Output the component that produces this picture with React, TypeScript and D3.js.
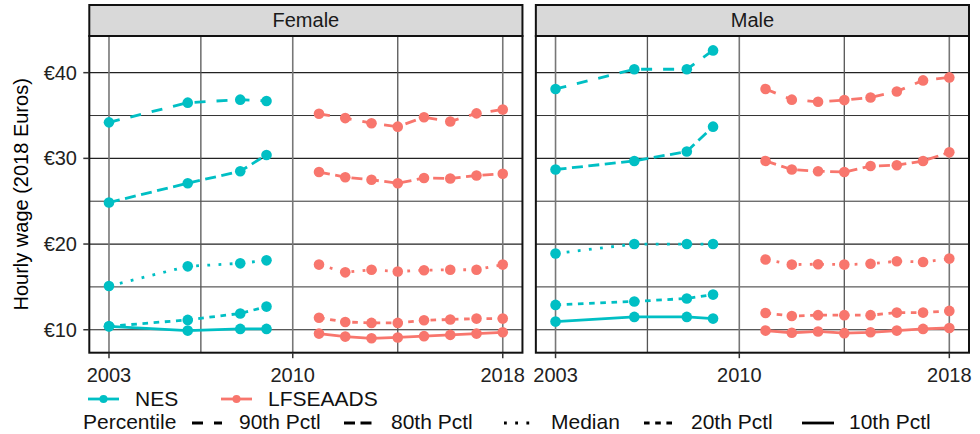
import React from "react";
import * as d3 from "d3";

// ---- data ----
const nesYears = [2003, 2006, 2008, 2009];
const lfsYears = [2011, 2012, 2013, 2014, 2015, 2016, 2017, 2018];
const percentiles = ["90th Pctl", "80th Pctl", "Median", "20th Pctl", "10th Pctl"];
const sexes = ["Female", "Male"];
const sources = ["NES", "LFSEAADS"];
const xTicks = [2003, 2010, 2018];
const yTicks = [10, 20, 30, 40];
const yTickLabels = ["€10", "€20", "€30", "€40"];

// rows in the order of `percentiles`
const femaleNES = [
    [34.2, 36.5, 36.85, 36.7],
    [24.85, 27.1, 28.5, 30.4],
    [15.1, 17.4, 17.75, 18.1],
    [10.4, 11.15, 11.9, 12.7],
    [10.4, 9.9, 10.1, 10.1],
];
const femaleLFS = [
    [35.2, 34.7, 34.1, 33.7, 34.8, 34.3, 35.25, 35.7],
    [28.4, 27.8, 27.5, 27.1, 27.7, 27.65, 28.0, 28.2],
    [17.6, 16.7, 17.0, 16.8, 16.95, 17.0, 17.0, 17.6],
    [11.4, 10.9, 10.8, 10.8, 11.1, 11.2, 11.3, 11.3],
    [9.55, 9.2, 9.0, 9.1, 9.25, 9.4, 9.55, 9.7],
];
const maleNES = [
    [38.1, 40.4, 40.4, 42.6],
    [28.7, 29.7, 30.8, 33.7],
    [18.9, 20.0, 20.0, 20.0],
    [12.9, 13.3, 13.65, 14.1],
    [10.95, 11.5, 11.5, 11.3],
];
const maleLFS = [
    [38.1, 36.85, 36.6, 36.8, 37.1, 37.8, 39.1, 39.45],
    [29.7, 28.7, 28.5, 28.4, 29.1, 29.2, 29.7, 30.7],
    [18.2, 17.6, 17.65, 17.6, 17.7, 18.0, 17.9, 18.3],
    [11.95, 11.6, 11.7, 11.7, 11.7, 12.0, 12.0, 12.2],
    [9.9, 9.65, 9.8, 9.6, 9.7, 9.9, 10.1, 10.2],
];

const colors: Record<string, string> = { NES: "#00BFC4", LFSEAADS: "#F8766D" };
const dashes: Record<string, string | undefined> = {
    "90th Pctl": "11 11",
    "80th Pctl": "11 5.5",
    "Median": "2.8 8.4",
    "20th Pctl": "5.6 5.6",
    "10th Pctl": undefined,
};

interface Series {
    sex: string;
    source: string;
    pctl: string;
    years: number[];
    values: number[];
}

function buildSeries(): Series[] {
    const out: Series[] = [];
    const bySex: Record<string, number[][][]> = {
        Female: [femaleNES, femaleLFS],
        Male: [maleNES, maleLFS],
    };
    sexes.forEach(sex => {
        sources.forEach((src, si) => {
            const rows = bySex[sex][si];
            const years = si === 0 ? nesYears : lfsYears;
            percentiles.forEach((p, pi) => out.push({ sex, source: src, pctl: p, years, values: rows[pi] }));
        });
    });
    return out;
}

const FONT = "'Liberation Sans', Arial, Helvetica, sans-serif";

export default function App() {
    const width = 980, height = 434;
    const plotLeft = 89.3, plotRight = 969, panelGap = 13.4;
    const panelW = (plotRight - plotLeft - panelGap) / 2;
    const stripTop = 5, plotTop = 36, plotBottom = 352.7;
    const lineW = 2.8;

    const series = buildSeries();
    const allVals = series.flatMap(s => s.values);
    const [vMin, vMax] = d3.extent(allVals) as [number, number];
    const yPad = (vMax - vMin) * 0.05;
    const y = d3.scaleLinear([vMin - yPad, vMax + yPad], [plotBottom, plotTop]);
    const allYears = [...nesYears, ...lfsYears];
    const [yrMin, yrMax] = d3.extent(allYears) as [number, number];
    const xPad = (yrMax - yrMin) * 0.05;

    const yMinor = yTicks.slice(1).map((t, i) => (t + yTicks[i]) / 2);
    const xMinor = xTicks.slice(1).map((t, i) => (t + xTicks[i]) / 2);

    const line = (x: d3.ScaleLinear<number, number>, s: Series) =>
        d3.line<number>().x((d, i) => x(s.years[i])).y(d => y(d))(s.values)!;

    // legend layout: key start / end for each percentile
    const pctlKeyX = [192, 344, 504, 644, 802];
    const pctlKeyW = [30, 33, 26, 29, 32];

    return <svg width={width} height={height} style={{ position: "absolute", left: 0, top: 0 }} fontFamily={FONT}>
        <rect width={width} height={height} fill="white" />
        {sexes.map((sex, pi) => {
            const px = plotLeft + pi * (panelW + panelGap);
            const x = d3.scaleLinear([yrMin - xPad, yrMax + xPad], [px, px + panelW]);
            const ss = series.filter(s => s.sex === sex);
            return <g key={sex}>
                {/* grid */}
                {yMinor.map(v => <line key={"ym" + v} x1={px} x2={px + panelW} y1={y(v)} y2={y(v)} stroke="#333" strokeWidth={1} />)}
                {yTicks.map(v => <line key={"y" + v} x1={px} x2={px + panelW} y1={y(v)} y2={y(v)} stroke="#222" strokeWidth={1.2} />)}
                {xMinor.map(v => <line key={"xm" + v} x1={x(v)} x2={x(v)} y1={plotTop} y2={plotBottom} stroke="#555" strokeWidth={1.3} />)}
                {xTicks.map(v => <line key={"x" + v} x1={x(v)} x2={x(v)} y1={plotTop} y2={plotBottom} stroke="#777" strokeWidth={1.6} />)}

                {/* lines then points */}
                {ss.map((s, i) => <path key={"l" + i} d={line(x, s)} fill="none"
                    stroke={colors[s.source]} strokeWidth={lineW} strokeDasharray={dashes[s.pctl]} />)}
                {ss.map((s, i) => <g key={"p" + i} fill={colors[s.source]}>
                    {s.values.map((v, j) => <circle key={j} cx={x(s.years[j])} cy={y(v)} r={5.3} />)}
                </g>)}

                <rect x={px} y={plotTop} width={panelW} height={plotBottom - plotTop} fill="none" stroke="#111" strokeWidth={2} />
                {/* strip */}
                <rect x={px} y={stripTop} width={panelW} height={plotTop - stripTop} fill="#d9d9d9" stroke="#111" strokeWidth={2} />
                <text x={px + panelW / 2} y={27} textAnchor="middle" fontSize={20} fill="#1a1a1a">{sex}</text>

                {/* x axis */}
                {xTicks.map(v => <g key={"xt" + v}>
                    <line x1={x(v)} x2={x(v)} y1={plotBottom} y2={plotBottom + 5.5} stroke="#333" strokeWidth={1.5} />
                    <text x={x(v)} y={381.5} textAnchor="middle" fontSize={20} fill="#222">{v}</text>
                </g>)}
            </g>;
        })}

        {/* y axis */}
        {yTicks.map((v, i) => <g key={"yt" + v}>
            <line x1={plotLeft - 6} x2={plotLeft} y1={y(v)} y2={y(v)} stroke="#333" strokeWidth={1.5} />
            <text x={77} y={y(v)} dy="0.35em" textAnchor="end" fontSize={20} fill="#222">{yTickLabels[i]}</text>
        </g>)}
        <text transform={`translate(28,${(plotTop + plotBottom) / 2}) rotate(-90)`} textAnchor="middle" fontSize={20} fill="#000">
            Hourly wage (2018 Euros)
        </text>

        {/* legend: source */}
        {sources.map((src, i) => {
            const kx = i === 0 ? 88 : 221;
            return <g key={src}>
                <line x1={kx} x2={kx + 31} y1={399} y2={399} stroke={colors[src]} strokeWidth={lineW} />
                <circle cx={kx + 15.5} cy={399} r={4} fill={colors[src]} />
                <text x={kx + 47} y={405.5} fontSize={21} fill="#111">{src}</text>
            </g>;
        })}
        {/* legend: percentile */}
        <text x={83} y={428.5} fontSize={21} fill="#111">Percentile</text>
        {percentiles.map((p, i) => <g key={p}>
            <line x1={pctlKeyX[i]} x2={pctlKeyX[i] + pctlKeyW[i]} y1={423} y2={423} stroke="#000" strokeWidth={lineW} strokeDasharray={dashes[p]} />
            <text x={pctlKeyX[i] + 47} y={428.5} fontSize={21} fill="#111">{p}</text>
        </g>)}
    </svg>;
}
